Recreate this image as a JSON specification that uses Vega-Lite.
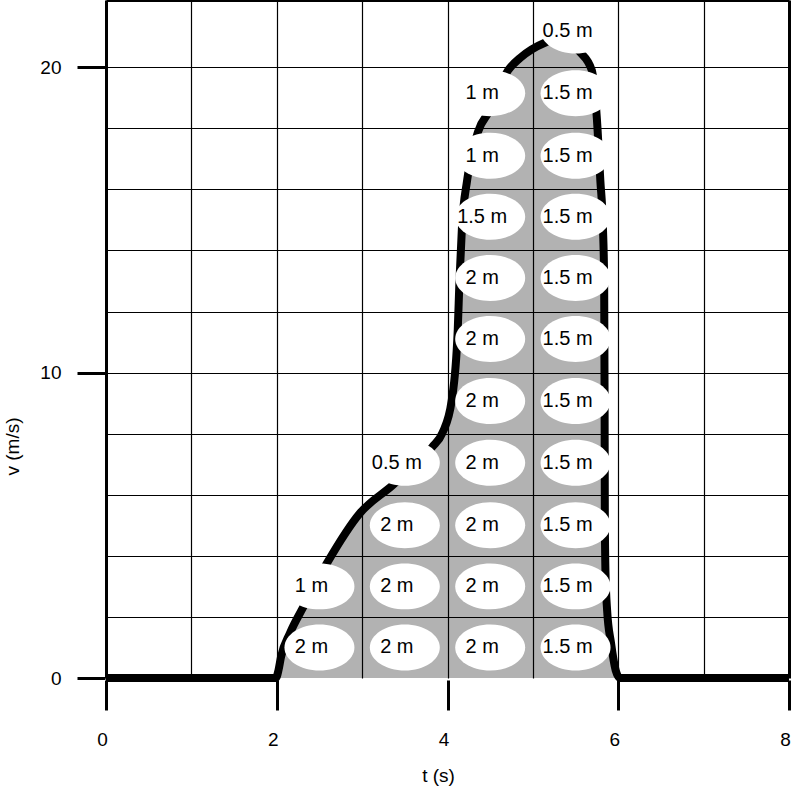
{
  "$schema": "https://vega.github.io/schema/vega-lite/v6.json",
  "width": 683,
  "height": 678,
  "autosize": "none",
  "padding": {"left": 106, "top": 0, "right": 3, "bottom": 110},
  "background": "white",
  "config": {"view": {"stroke": null}, "font": "Liberation Sans"},
  "datasets": {
    "curve": [
      {"t": 0, "v": 0}, {"t": 1.99, "v": 0},
      {"t": 2.02, "v": 0.25}, {"t": 2.05, "v": 0.69}, {"t": 2.155, "v": 1.47}, {"t": 2.31, "v": 2.32},
      {"t": 2.59, "v": 3.77}, {"t": 2.975, "v": 5.4}, {"t": 3.36, "v": 6.32}, {"t": 3.82, "v": 7.56},
      {"t": 3.94, "v": 8.02}, {"t": 4.05, "v": 9.1}, {"t": 4.12, "v": 11.4}, {"t": 4.14, "v": 13.0},
      {"t": 4.17, "v": 14.8}, {"t": 4.23, "v": 16.3}, {"t": 4.36, "v": 17.9}, {"t": 4.5, "v": 18.6},
      {"t": 4.71, "v": 19.9}, {"t": 4.85, "v": 20.3}, {"t": 5.14, "v": 20.8}, {"t": 5.32, "v": 20.95},
      {"t": 5.55, "v": 20.5}, {"t": 5.69, "v": 19.9}, {"t": 5.75, "v": 18.3}, {"t": 5.79, "v": 16.3},
      {"t": 5.82, "v": 14.8}, {"t": 5.835, "v": 13.0}, {"t": 5.84, "v": 9.1}, {"t": 5.843, "v": 5.2},
      {"t": 5.85, "v": 3.5}, {"t": 5.87, "v": 2.2}, {"t": 5.915, "v": 1.15}, {"t": 5.97, "v": 0.25},
      {"t": 6.02, "v": 0}, {"t": 8, "v": 0}
    ],
    "cells": [
      {"t": 2.5, "v": 1, "label": "2 m"}, {"t": 2.5, "v": 3, "label": "1 m"},
      {"t": 3.5, "v": 1, "label": "2 m"}, {"t": 3.5, "v": 3, "label": "2 m"},
      {"t": 3.5, "v": 5, "label": "2 m"}, {"t": 3.5, "v": 7.05, "label": "0.5 m"},
      {"t": 4.5, "v": 1, "label": "2 m"}, {"t": 4.5, "v": 3, "label": "2 m"},
      {"t": 4.5, "v": 5, "label": "2 m"}, {"t": 4.5, "v": 7.05, "label": "2 m"},
      {"t": 4.5, "v": 9.07, "label": "2 m"}, {"t": 4.5, "v": 11.1, "label": "2 m"},
      {"t": 4.5, "v": 13.1, "label": "2 m"}, {"t": 4.5, "v": 15.1, "label": "1.5 m"},
      {"t": 4.5, "v": 17.1, "label": "1 m"}, {"t": 4.5, "v": 19.15, "label": "1 m"},
      {"t": 5.5, "v": 1, "label": "1.5 m"}, {"t": 5.5, "v": 3, "label": "1.5 m"},
      {"t": 5.5, "v": 5, "label": "1.5 m"}, {"t": 5.5, "v": 7.05, "label": "1.5 m"},
      {"t": 5.5, "v": 9.07, "label": "1.5 m"}, {"t": 5.5, "v": 11.1, "label": "1.5 m"},
      {"t": 5.5, "v": 13.1, "label": "1.5 m"}, {"t": 5.5, "v": 15.1, "label": "1.5 m"},
      {"t": 5.5, "v": 17.1, "label": "1.5 m"}, {"t": 5.5, "v": 19.15, "label": "1.5 m"},
      {"t": 5.5, "v": 21.2, "label": "0.5 m"}
    ]
  },
  "layer": [
    {
      "data": {"name": "curve"},
      "mark": {"type": "area", "interpolate": "monotone", "color": "black", "opacity": 0.3},
      "encoding": {
        "x": {
          "field": "t", "type": "quantitative", "title": "t (s)",
          "scale": {"domain": [0, 8], "nice": false, "zero": false},
          "axis": {
            "values": [0, 1, 2, 3, 4, 5, 6, 7, 8],
            "format": "d",
            "grid": true, "gridColor": "black",
            "gridWidth": {"expr": "datum.value === 0 || datum.value === 8 ? 3 : 1.2"},
            "domain": false,
            "offset": 2,
            "tickColor": "black", "tickWidth": 3, "tickSize": 30,
            "tickOpacity": {"expr": "datum.value % 2 === 0 ? 1 : 0"},
            "labelExpr": "datum.value % 2 === 0 ? datum.label : ''",
            "labelFontSize": 19, "labelColor": "black", "labelPadding": 20,
            "labelOffset": -4, "labelFlush": false, "labelOverlap": false,
            "titleFontSize": 19, "titleFontWeight": "normal", "titleColor": "black",
            "titleX": 332, "titleY": 95, "titleBaseline": "middle", "titleAlign": "center"
          }
        },
        "y": {
          "field": "v", "type": "quantitative", "title": "v (m/s)",
          "scale": {"domain": [0, 22.2], "nice": false, "zero": false},
          "axis": {
            "values": [0, 2, 4, 6, 8, 10, 12, 14, 16, 18, 20, 22.2],
            "grid": true, "gridColor": "black",
            "gridWidth": {"expr": "datum.value > 22 ? 3 : 1.2"},
            "gridOpacity": {"expr": "datum.value === 0 ? 0 : 1"},
            "domain": false,
            "offset": 1,
            "tickColor": "black", "tickWidth": 3, "tickSize": 28,
            "tickOpacity": {"expr": "datum.value % 10 === 0 ? 1 : 0"},
            "labelExpr": "datum.value % 10 === 0 ? datum.label : ''",
            "labelFontSize": 19, "labelColor": "black", "labelPadding": 16,
            "labelOverlap": false, "labelFlush": false,
            "titleFontSize": 19, "titleFontWeight": "normal", "titleColor": "black",
            "titleX": -93, "titleY": 446, "titleAngle": 270,
            "titleBaseline": "middle", "titleAlign": "center"
          }
        }
      }
    },
    {
      "data": {"name": "curve"},
      "mark": {"type": "line", "interpolate": "monotone", "color": "black", "strokeWidth": 8},
      "encoding": {
        "x": {"field": "t", "type": "quantitative", "title": "t (s)"},
        "y": {"field": "v", "type": "quantitative", "title": "v (m/s)"}
      }
    },
    {
      "data": {"name": "cells"},
      "mark": {
        "type": "point",
        "shape": "M-1,0A1,0.657,0,1,0,1,0A1,0.657,0,1,0,-1,0Z",
        "size": 4900, "filled": true, "color": "white", "opacity": 1, "strokeWidth": 0
      },
      "encoding": {
        "x": {"field": "t", "type": "quantitative", "title": "t (s)"},
        "y": {"field": "v", "type": "quantitative", "title": "v (m/s)"}
      }
    },
    {
      "data": {"name": "cells"},
      "mark": {"type": "text", "fontSize": 20, "dx": -8, "baseline": "middle", "color": "black", "font": "Liberation Sans"},
      "encoding": {
        "x": {"field": "t", "type": "quantitative", "title": "t (s)"},
        "y": {"field": "v", "type": "quantitative", "title": "v (m/s)"},
        "text": {"field": "label"}
      }
    }
  ]
}
